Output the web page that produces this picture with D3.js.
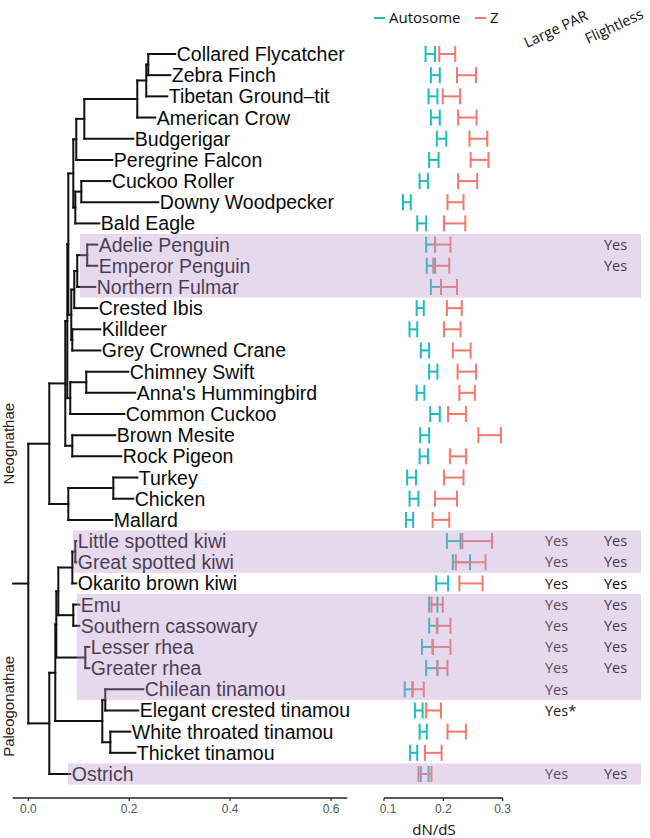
<!DOCTYPE html>
<html><head><meta charset="utf-8">
<script src="https://cdn.jsdelivr.net/npm/d3@7"></script>
<style>body{margin:0;background:#fff;} svg{display:block;}</style>
</head><body>
<svg id="chart" width="650" height="838"></svg>
<script>
// ---------- DATA ----------
// Phylogeny (branch lengths, substitutions/site), leaves in plotting order
const treeNewick =
 "(((((((((((Collared Flycatcher:0.0535,Zebra Finch:0.0436):0.004,Tibetan Ground–tit:0.0416):0.0178,American Crow:0.0357):0.105,Budgerigar:0.0971):0.0159,Peregrine Falcon:0.0714):0.0059," +
 "((Cuckoo Roller:0.0575,Downy Woodpecker:0.1526):0.0119,Bald Eagle:0.0476):0.004):0.0099," +
 "((((Adelie Penguin:0.0198,Emperor Penguin:0.0198):0.0198,Northern Fulmar:0.0357):0.0059,Crested Ibis:0.0456):0.0059,(Killdeer:0.0555,Grey Crowned Crane:0.0555):0.002):0.0059):0.002," +
 "((Chimney Swift:0.0833,Anna's Hummingbird:0.0971):0.0317,Common Cuckoo:0.107):0.0059):0.004," +
 "(Brown Mesite:0.0852,Rock Pigeon:0.0971):0.0139):0.0317," +
 "((Turkey:0.0476,Chicken:0.0396):0.0892,Mallard:0.0872):0.0377):0.0416," +
 "((((((Little spotted kiwi:0.002,Great spotted kiwi:0.002):0.0059,Okarito brown kiwi:0.0079):0.0278,(Emu:0.0119,Southern cassowary:0.0119):0.0297):0.004," +
 "(Lesser rhea:0.0079,Greater rhea:0.0079):0.0575):0.002," +
 "((Chilean tinamou:0.0753,Elegant crested tinamou:0.0654):0.0059,(White throated tinamou:0.0396,Thicket tinamou:0.0496):0.0159):0.0932):0.0119," +
 "Ostrich:0.0416):0.0416);";
const rootEdge = 0.03;

const species = ["Collared Flycatcher","Zebra Finch","Tibetan Ground–tit","American Crow","Budgerigar","Peregrine Falcon",
 "Cuckoo Roller","Downy Woodpecker","Bald Eagle","Adelie Penguin","Emperor Penguin","Northern Fulmar","Crested Ibis",
 "Killdeer","Grey Crowned Crane","Chimney Swift","Anna's Hummingbird","Common Cuckoo","Brown Mesite","Rock Pigeon",
 "Turkey","Chicken","Mallard","Little spotted kiwi","Great spotted kiwi","Okarito brown kiwi","Emu","Southern cassowary",
 "Lesser rhea","Greater rhea","Chilean tinamou","Elegant crested tinamou","White throated tinamou","Thicket tinamou","Ostrich"];

// dN/dS intervals
const autoLo = [0.170,0.179,0.175,0.179,0.189,0.176,0.160,0.132,0.156,0.171,0.172,0.179,0.155,0.143,0.162,0.176,0.155,0.178,0.161,0.160,0.139,0.143,0.137,0.206,0.216,0.188,0.176,0.176,0.164,0.171,0.135,0.152,0.160,0.144,0.162];
const autoHi = [0.186,0.194,0.190,0.194,0.205,0.192,0.174,0.145,0.171,0.186,0.186,0.196,0.167,0.156,0.176,0.190,0.168,0.194,0.176,0.174,0.154,0.158,0.149,0.229,0.245,0.208,0.190,0.190,0.182,0.190,0.148,0.165,0.172,0.156,0.175];
const zLo    = [0.193,0.223,0.199,0.225,0.244,0.246,0.225,0.207,0.201,0.186,0.183,0.196,0.206,0.201,0.216,0.224,0.227,0.208,0.259,0.211,0.201,0.186,0.182,0.232,0.221,0.227,0.180,0.189,0.182,0.190,0.148,0.171,0.207,0.169,0.158];
const zHi    = [0.220,0.255,0.228,0.256,0.274,0.276,0.257,0.234,0.237,0.212,0.210,0.223,0.231,0.229,0.246,0.255,0.253,0.238,0.297,0.238,0.234,0.223,0.210,0.282,0.271,0.266,0.199,0.212,0.212,0.207,0.167,0.196,0.238,0.197,0.180];

const largePAR = ["","","","","","","","","","","","","","","","","","","","","","","","Yes","Yes","Yes","Yes","Yes","Yes","Yes","Yes","Yes*","","",
 "Yes"];
const flightless = ["","","","","","","","","","Yes","Yes","","","","","","","","","","","","","Yes","Yes","Yes","Yes","Yes","Yes","Yes","","","","","Yes"];

const bandFirst = ["Adelie Penguin","Little spotted kiwi","Emu","Ostrich"];
const bandLast  = ["Northern Fulmar","Great spotted kiwi","Chilean tinamou","Ostrich"];
const bandStart = [0.1025,0.0886,0.0965,0.0787];   // in tree-length units

const cladeNames = ["Neognathae","Paleogonathae"];
const treeTicks = [0.0,0.2,0.4,0.6];
const dnTicks = [0.1,0.2,0.3];
const seriesNames = ["Autosome","Z"];
const seriesColors = ["#1fbcc0","#f4786c"];

// ---------- PARSER ----------
function parseNewick(s){
  let i=0;
  function node(){
    const n={};
    if(s[i]==='('){
      i++; n.children=[];
      while(true){
        n.children.push(node());
        if(s[i]===','){i++;continue;}
        break;
      }
      i++;
    }
    let name='';
    while(i<s.length && !'():,;'.includes(s[i])) name+=s[i++];
    n.name=name.trim();
    if(s[i]===':'){ i++; let num=''; while(i<s.length && !'(),;'.includes(s[i])) num+=s[i++]; n.length=+num; }
    else n.length=0;
    return n;
  }
  return node();
}

// ---------- LAYOUT ----------
const svg = d3.select("#chart");
const xT = d3.scaleLinear().domain([0,0.6]).range([28.3,331]);
const xD = d3.scaleLinear().domain([0.1,0.3]).range([384,502.7]);
const yR = d3.scaleLinear().domain([0,species.length-1]).range([54,774]);
const rowH = yR(1)-yR(0);

const root = d3.hierarchy(parseNewick(treeNewick));
root.each(d=>{ d.len = d.parent ? d.parent.len + d.data.length : 0; });
const leaves = root.leaves();
leaves.forEach((d,i)=>{ d.yy = yR(species.indexOf(d.data.name)); });
root.eachAfter(d=>{ if(d.children){ d.yy = (d.children[0].yy + d.children[d.children.length-1].yy)/2; } });

const treeG = svg.append("g").attr("stroke","#111").attr("stroke-width",2).attr("stroke-linecap","square").attr("fill","none");
root.descendants().forEach(d=>{
  if(d.parent){
    treeG.append("line").attr("x1",xT(d.parent.len)).attr("x2",xT(d.len)).attr("y1",d.yy).attr("y2",d.yy);
  }
  if(d.children){
    treeG.append("line").attr("x1",xT(d.len)).attr("x2",xT(d.len))
      .attr("y1",d.children[0].yy).attr("y2",d.children[d.children.length-1].yy);
  }
});
treeG.append("line").attr("x1",xT(-rootEdge)).attr("x2",xT(0)).attr("y1",root.yy).attr("y2",root.yy);

// leaf labels
svg.append("g").selectAll("text").data(leaves).join("text")
  .attr("x",d=>xT(d.len)+1.5).attr("y",d=>d.yy).attr("dy","0.36em")
  .attr("font-family","'Liberation Sans',Arial,Helvetica,sans-serif").attr("font-size",19.5)
  .attr("fill","#0a0a0a").text(d=>d.data.name);

// clade labels
const cladeNodes = root.children || [];
const cladeY = [ (cladeNodes[0] ? cladeNodes[0].yy : 444), (cladeNodes[1] ? cladeNodes[1].yy - 17 : 705) ];
cladeNames.forEach((name,k)=>{
  svg.append("text").attr("transform",`translate(9,${cladeY[k]}) rotate(-90)`).attr("text-anchor","middle").attr("dy","0.35em")
    .attr("font-family","'Liberation Sans',Arial,sans-serif").attr("font-size",15).attr("fill","#222").text(name);
});

// error bars
const bars = svg.append("g").attr("stroke-width",2).attr("fill","none");
const series = [[autoLo,autoHi],[zLo,zHi]];
series.forEach(([lo,hi],s)=>{
  species.forEach((sp,i)=>{
    const y=yR(i), capH=8;
    const g = bars.append("g").attr("stroke",seriesColors[s]);
    g.append("line").attr("x1",xD(lo[i])).attr("x2",xD(hi[i])).attr("y1",y).attr("y2",y);
    g.append("line").attr("x1",xD(lo[i])).attr("x2",xD(lo[i])).attr("y1",y-capH).attr("y2",y+capH);
    g.append("line").attr("x1",xD(hi[i])).attr("x2",xD(hi[i])).attr("y1",y-capH).attr("y2",y+capH);
  });
});

// Yes columns
const yesFont = "'Open Sans',Lato,sans-serif";
svg.append("g").selectAll("text").data(largePAR).join("text")
  .attr("x",545).attr("y",(d,i)=>yR(i)).attr("dy","0.36em")
  .attr("font-family",yesFont).attr("font-size",14.5).attr("fill","#1a1a1a").text(d=>d);
svg.append("g").selectAll("text").data(flightless).join("text")
  .attr("x",604).attr("y",(d,i)=>yR(i)).attr("dy","0.36em")
  .attr("font-family",yesFont).attr("font-size",14.5).attr("fill","#000").text(d=>d);

// headers
svg.append("text").attr("transform","translate(527,48) rotate(-25)")
  .attr("font-family",yesFont).attr("font-size",14.5).attr("fill","#111").text("Large PAR");
svg.append("text").attr("transform","translate(588,44) rotate(-25)")
  .attr("font-family",yesFont).attr("font-size",14.5).attr("fill","#111").text("Flightless");

// legend
const legX = [374,475];
seriesNames.forEach((n,s)=>{
  svg.append("line").attr("x1",legX[s]).attr("x2",legX[s]+11).attr("y1",18).attr("y2",18)
    .attr("stroke",seriesColors[s]).attr("stroke-width",2);
  svg.append("text").attr("x",legX[s]+15).attr("y",18).attr("dy","0.36em")
    .attr("font-family",yesFont).attr("font-size",15).attr("fill","#111").text(n);
});

// bands (overlay)
bandFirst.forEach((f,k)=>{
  const i0=species.indexOf(f), i1=species.indexOf(bandLast[k]);
  const x0 = xT(bandStart[k]);
  svg.append("rect").attr("x",x0).attr("width",641-x0)
    .attr("y",yR(i0)-rowH/2).attr("height",yR(i1)-yR(i0)+rowH)
    .attr("fill","rgb(185,150,205)").attr("fill-opacity",0.36);
});

// axes
const axY = 798;
const axT = svg.append("g");
axT.append("line").attr("x1",xT(-0.031)).attr("x2",xT(0.632)).attr("y1",axY).attr("y2",axY).attr("stroke","#222").attr("stroke-width",1.5);
treeTicks.forEach(t=>{
  axT.append("line").attr("x1",xT(t)).attr("x2",xT(t)).attr("y1",axY).attr("y2",axY+3).attr("stroke","#222").attr("stroke-width",1.2);
  axT.append("text").attr("x",xT(t)).attr("y",axY+15).attr("text-anchor","middle")
    .attr("font-family","'Liberation Sans',Arial,sans-serif").attr("font-size",12).attr("fill","#555").text(t.toFixed(1));
});
const axD = svg.append("g");
axD.append("line").attr("x1",xD(dnTicks[0])).attr("x2",xD(dnTicks[dnTicks.length-1])).attr("y1",axY).attr("y2",axY).attr("stroke","#222").attr("stroke-width",1.5);
dnTicks.forEach(t=>{
  axD.append("line").attr("x1",xD(t)).attr("x2",xD(t)).attr("y1",axY).attr("y2",axY+3).attr("stroke","#222").attr("stroke-width",1.2);
  axD.append("text").attr("x",xD(t)+(t===0.1?4:0)).attr("y",axY+15).attr("text-anchor","middle")
    .attr("font-family","'Liberation Sans',Arial,sans-serif").attr("font-size",12).attr("fill","#555").text(t.toFixed(1));
});
svg.append("text").attr("x",434).attr("y",835).attr("text-anchor","middle")
  .attr("font-family",yesFont).attr("font-size",15).attr("fill","#111").text("dN/dS");
</script>
</body></html>
